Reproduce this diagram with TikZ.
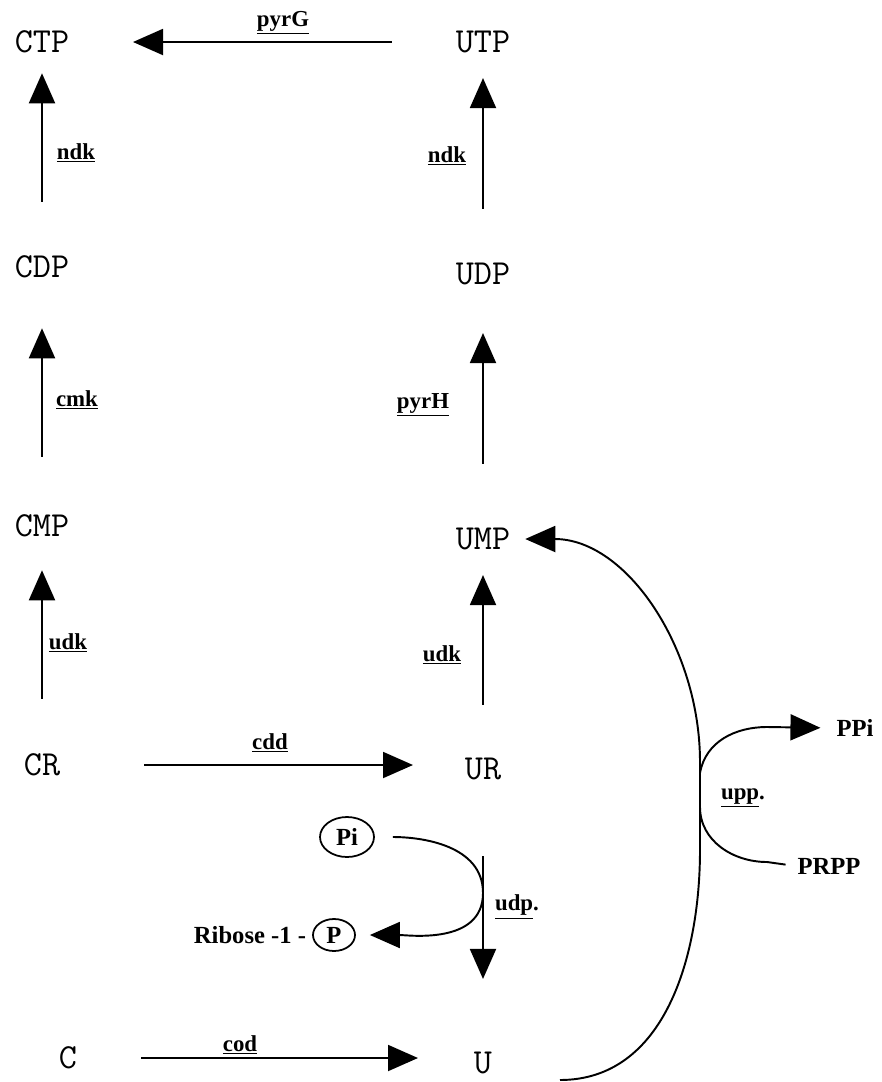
\documentclass[tikz,border=0pt]{standalone}
\usepackage{fontspec}
\setmainfont{Liberation Serif}
\usepackage{tikz}
\usetikzlibrary{positioning,arrows.meta,calc,shapes.geometric}
\tikzset{
    every node/.style={inner sep=1pt},
    metab/.style={font=\ttfamily\fontsize{20}{22}\selectfont},
    enz/.style={font=\bfseries\fontsize{13}{15}\selectfont},
    chem/.style={font=\bfseries\fontsize{14}{16}\selectfont},
    ring/.style={chem,ellipse,draw,line width=1pt,inner sep=0pt},
    flow/.style={draw,line width=1.1pt,-{Triangle[length=6mm,width=5.2mm]}},
    link/.style={draw,line width=1.1pt}
}
\begin{document}
\begin{tikzpicture}
\useasboundingbox (0,0) rectangle (17.64,-21.64);
\node[metab] (ctp) at (0.84,-0.84) {CTP};
\node[metab] (utp) at (9.66,-0.84) {UTP};
\node[metab] (cdp) at (0.84,-5.34) {CDP};
\node[metab] (udp) at (9.66,-5.48) {UDP};
\node[metab] (cmp) at (0.84,-10.52) {CMP};
\node[metab] (ump) at (9.66,-10.78) {UMP};
\node[metab] (cr) at (0.84,-15.3) {CR};
\node[metab] (ur) at (9.66,-15.38) {UR};
\node[metab] (c) at (1.36,-21.16) {C};
\node[metab] (u) at (9.66,-21.26) {U};
\node[ring,minimum width=1.08cm,minimum height=0.8cm] (pi) at (6.94,-16.74) {Pi};
\node[ring,minimum width=0.84cm,minimum height=0.64cm] (pcirc) at (6.68,-18.7) {P};
\node[chem,left=0.08cm of pcirc] (ribose) {Ribose -1 -};
\node[chem] (ppi) at (17.1,-14.56) {PPi};
\node[chem] (prpp) at (16.58,-17.32) {PRPP};
\node[enz] (pyrg) at (5.66,-0.46) {\underline{pyrG}};
\node[enz] (ndkc) at (1.52,-3.06) {\underline{ndk}};
\node[enz] (ndku) at (8.94,-3.12) {\underline{ndk}};
\node[enz] (cmk) at (1.54,-8.0) {\underline{cmk}};
\node[enz] (pyrh) at (8.46,-8.1) {\underline{pyrH}};
\node[enz] (udkc) at (1.36,-12.86) {\underline{udk}};
\node[enz] (udku) at (8.84,-13.1) {\underline{udk}};
\node[enz] (cdd) at (5.4,-14.86) {\underline{cdd}};
\node[enz] (udpe) at (10.34,-18.14) {\underline{udp}.};
\node[enz] (cod) at (4.8,-20.9) {\underline{cod}};
\node[enz] (upp) at (14.86,-15.96) {\underline{upp}.};
\coordinate (udpbend) at (9.66,-17.86);
\coordinate (uppstart) at (11.2,-21.6);
\coordinate (uppbot) at (14.0,-17.0);
\coordinate (upptop) at (14.0,-15.24);
\coordinate (ppibr) at (14.0,-15.46);
\coordinate (ppiknee) at (15.34,-14.54);
\coordinate (prppbr) at (14.0,-16.14);
\coordinate (prppknee) at (15.34,-17.24);
\draw[flow,shorten <=1.24cm,shorten >=1.82cm] (utp) -- (utp -| ctp);
\draw[flow,shorten <=1.04cm,shorten >=0.36cm] (cdp) -- (ctp);
\draw[flow,shorten <=1.04cm,shorten >=0.46cm] (udp) -- (utp);
\draw[flow,shorten <=1.12cm,shorten >=0.96cm] (cmp) -- (cdp);
\draw[flow,shorten <=1.24cm,shorten >=0.92cm] (ump) -- (udp);
\draw[flow,shorten <=1.06cm,shorten >=0.62cm] (cr) -- (cmp);
\draw[flow,shorten <=1.02cm,shorten >=0.46cm] (ur) -- (ump);
\draw[flow,shorten <=1.64cm,shorten >=1.4cm] (cr) -- (cr -| ur);
\draw[flow,shorten <=1.24cm,shorten >=1.3cm] (c) -- (c -| u);
\draw[flow,shorten <=1.48cm,shorten >=1.42cm] (ur) -- (u);
\draw[link,shorten <=0.36cm] (pi.east) to[out=0,in=90] (udpbend);
\draw[flow,shorten >=0.28cm] (udpbend) to[out=-90,in=0] (pcirc.east);
\draw[flow,shorten >=0.26cm] (uppstart) to[out=0,in=-90] (uppbot) -- (upptop) to[out=90,in=0] (ump.east);
\draw[flow,shorten >=0.28cm] (ppibr) to[out=80,in=180] (ppiknee) -- (ppi.west);
\draw[link,shorten >=0.2cm] (prppbr) to[out=-90,in=180] (prppknee) -- (prpp.west);
\end{tikzpicture}
\end{document}
